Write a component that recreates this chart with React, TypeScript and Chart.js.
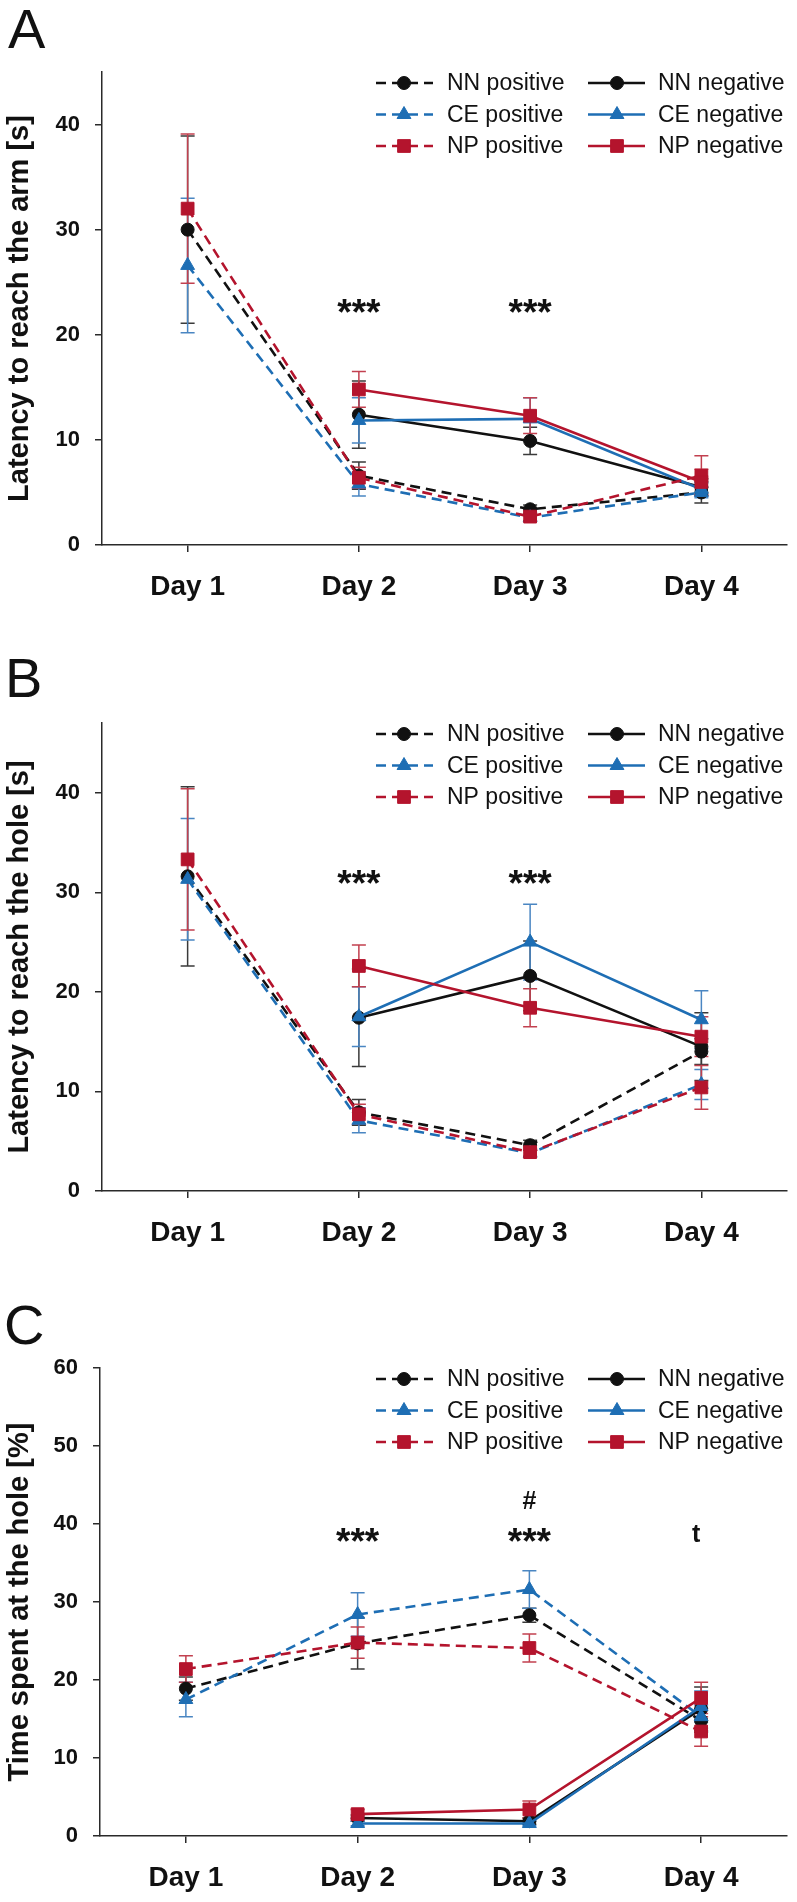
import React, { useEffect, useRef } from 'react';
import { Chart, registerables } from 'chart.js';

Chart.register(...registerables);

const FONT = '"Liberation Sans", Arial, Helvetica, sans-serif';
Chart.defaults.font.family = FONT;

// ---------- categories & series meta ----------
const days = ['Day 1', 'Day 2', 'Day 3', 'Day 4'];
const groups = ['NN', 'CE', 'NP'];
const groupColors = ['#111111', '#1e6eb4', '#b4142d'];
const groupErrColors = ['#3a3a3a', '#4a86c2', '#c2404f'];
const groupMarkers = ['circle', 'triangle', 'rect'];
const groupRadii = [6.5, 8, 9];

// ---------- Panel A: latency to reach the arm [s] ----------
const aNNpos = [30.0, 6.6, 3.4, 5.0];
const aNNposErr = [8.9, 1.3, 0.4, 1.0];
const aCEpos = [26.6, 5.8, 2.6, 5.0];
const aCEposErr = [6.4, 1.15, 0.3, 0.5];
const aNPpos = [32.0, 6.4, 2.7, 6.6];
const aNPposErr = [7.1, 1.0, 0.4, 1.9];
const aNNneg = [null, 12.4, 9.9, 5.5];
const aNNnegErr = [null, 3.2, 1.3, 0.8];
const aCEneg = [null, 11.85, 12.0, 5.3];
const aCEnegErr = [null, 2.15, 2.0, 0.6];
const aNPneg = [null, 14.8, 12.3, 6.0];
const aNPnegErr = [null, 1.7, 1.7, 1.2];

// ---------- Panel B: latency to reach the hole [s] ----------
const bNNpos = [31.6, 7.9, 4.6, 14.0];
const bNNposErr = [9.0, 1.3, 0.5, 1.3];
const bCEpos = [31.3, 7.1, 3.8, 10.7];
const bCEposErr = [6.1, 1.25, 0.4, 1.5];
const bNPpos = [33.3, 7.7, 3.9, 10.4];
const bNPposErr = [7.1, 1.0, 0.4, 2.2];
const bNNneg = [null, 17.4, 21.6, 14.5];
const bNNnegErr = [null, 4.9, 3.5, 3.4];
const bCEneg = [null, 17.5, 25.0, 17.2];
const bCEnegErr = [null, 3.0, 3.8, 2.9];
const bNPneg = [null, 22.6, 18.4, 15.5];
const bNPnegErr = [null, 2.1, 1.9, 2.0];

// ---------- Panel C: time spent at the hole [%] ----------
const cNNpos = [18.9, 24.7, 28.3, 14.8];
const cNNposErr = [1.5, 3.3, 0.9, 1.5];
const cCEpos = [17.5, 28.4, 31.6, 15.3];
const cCEposErr = [2.2, 2.8, 2.4, 1.5];
const cNPpos = [21.4, 24.8, 24.1, 13.4];
const cNPposErr = [1.7, 2.0, 1.8, 1.9];
const cNNneg = [null, 2.3, 1.9, 16.3];
const cNNnegErr = [null, 0.4, 0.4, 2.8];
const cCEneg = [null, 1.6, 1.6, 16.6];
const cCEnegErr = [null, 0.3, 0.3, 2.0];
const cNPneg = [null, 2.8, 3.4, 17.7];
const cNPnegErr = [null, 0.6, 1.1, 2.0];

// ---------- axis ticks ----------
const yStep = 10;
const aMax = 45;
const bMax = 47;
const cMax = 60;

// ---------- significance marks (category index, value, text) ----------
const annA = [
  { day: 1, value: 22.7, text: '***' },
  { day: 2, value: 22.7, text: '***' },
];
const annB = [
  { day: 1, value: 31.5, text: '***' },
  { day: 2, value: 31.5, text: '***' },
];
const annC = [
  { day: 1, value: 38.6, text: '***' },
  { day: 2, value: 38.6, text: '***' },
  { day: 2, value: 43.1, text: '#' },
  { day: 3, value: 38.8, text: 't' },
];

type Num = number | null;

function drawMarker(ctx: CanvasRenderingContext2D, style: string, x: number, y: number, r: number, color: string) {
  ctx.save();
  ctx.fillStyle = color;
  ctx.strokeStyle = color;
  ctx.lineWidth = 1;
  ctx.setLineDash([]);
  ctx.beginPath();
  if (style === 'circle') {
    ctx.arc(x, y, r, 0, Math.PI * 2);
  } else if (style === 'triangle') {
    let rad = 0;
    ctx.moveTo(x + Math.sin(rad) * r, y - Math.cos(rad) * r);
    rad += (2 * Math.PI) / 3;
    ctx.lineTo(x + Math.sin(rad) * r, y - Math.cos(rad) * r);
    rad += (2 * Math.PI) / 3;
    ctx.lineTo(x + Math.sin(rad) * r, y - Math.cos(rad) * r);
    ctx.closePath();
  } else {
    const s = r * Math.SQRT1_2;
    ctx.rect(x - s, y - s, 2 * s, 2 * s);
  }
  ctx.fill();
  ctx.stroke();
  ctx.restore();
}

const errorBarPlugin = {
  id: 'errorBars',
  beforeDatasetsDraw(chart: any) {
    const { ctx } = chart;
    const ys = chart.scales.y;
    for (let i = chart.data.datasets.length - 1; i >= 0; i--) {
      const ds = chart.data.datasets[i];
      const meta = chart.getDatasetMeta(i);
      (ds.errors as Num[]).forEach((e, j) => {
        const v = ds.data[j];
        if (v == null || e == null) return;
        const x = meta.data[j].x;
        const top = ys.getPixelForValue(v + e);
        const bot = ys.getPixelForValue(v - e);
        ctx.save();
        ctx.strokeStyle = ds.errColor;
        ctx.lineWidth = 1.5;
        ctx.beginPath();
        ctx.moveTo(x, top);
        ctx.lineTo(x, bot);
        ctx.moveTo(x - 7, top);
        ctx.lineTo(x + 7, top);
        ctx.moveTo(x - 7, bot);
        ctx.lineTo(x + 7, bot);
        ctx.stroke();
        ctx.restore();
      });
    }
  },
};

const legendOrder = [
  ['NN positive', 'CE positive', 'NP positive'],
  ['NN negative', 'CE negative', 'NP negative'],
];

const customLegendPlugin = {
  id: 'customLegend',
  afterDatasetsDraw(chart: any) {
    const { ctx, chartArea } = chart;
    const cols = [
      { x0: 376, x1: 433, mx: 404, tx: 447 },
      { x0: 588, x1: 645, mx: 617, tx: 658 },
    ];
    legendOrder.forEach((col, ci) => {
      col.forEach((label, ri) => {
        const ds = chart.data.datasets.find((d: any) => d.label === label);
        if (!ds) return;
        const y = chartArea.top + 11 + ri * 31.5;
        const c = cols[ci];
        ctx.save();
        ctx.strokeStyle = ds.borderColor;
        ctx.lineWidth = 2.5;
        ctx.setLineDash(ds.borderDash || []);
        ctx.beginPath();
        ctx.moveTo(c.x0, y);
        ctx.lineTo(c.x1, y);
        ctx.stroke();
        ctx.restore();
        drawMarker(ctx, ds.pointStyle, c.mx, y, ds.pointRadius, ds.borderColor);
        ctx.save();
        ctx.fillStyle = '#111';
        ctx.font = `23px ${FONT}`;
        ctx.textBaseline = 'middle';
        ctx.textAlign = 'left';
        ctx.fillText(label, c.tx, y + 1);
        ctx.restore();
      });
    });
  },
};

const textMarksPlugin = {
  id: 'textMarks',
  afterDraw(chart: any, _args: any, opts: any) {
    const { ctx } = chart;
    const xs = chart.scales.x;
    const ys = chart.scales.y;
    (opts.marks || []).forEach((m: any) => {
      const size = m.text === '***' ? 37 : 25;
      ctx.save();
      ctx.font = `bold ${size}px ${FONT}`;
      ctx.fillStyle = '#111';
      ctx.textAlign = 'center';
      ctx.textBaseline = 'alphabetic';
      const mt = ctx.measureText(m.text);
      const asc = mt.actualBoundingBoxAscent;
      const desc = mt.actualBoundingBoxDescent;
      const cy = ys.getPixelForValue(m.value);
      const cx = xs.getPixelForValue(m.day) + (m.text === 't' ? -5 : 0);
      ctx.fillText(m.text, cx, cy + (asc - desc) / 2);
      ctx.restore();
    });
    if (opts.letter) {
      ctx.save();
      ctx.font = `56px ${FONT}`;
      ctx.fillStyle = '#111';
      ctx.textAlign = 'left';
      ctx.textBaseline = 'alphabetic';
      ctx.fillText(opts.letter.text, opts.letter.x, opts.letter.y);
      ctx.restore();
    }
  },
};

function makeDatasets(pos: Num[][], posErr: Num[][], neg: Num[][], negErr: Num[][]) {
  const out: any[] = [];
  const make = (g: number, positive: boolean) => ({
    label: `${groups[g]} ${positive ? 'positive' : 'negative'}`,
    data: positive ? pos[g] : neg[g],
    errors: positive ? posErr[g] : negErr[g],
    errColor: groupErrColors[g],
    borderColor: groupColors[g],
    backgroundColor: groupColors[g],
    borderWidth: 2.6,
    borderDash: positive ? [10, 6] : [],
    pointStyle: groupMarkers[g],
    pointRadius: groupRadii[g],
    pointHoverRadius: groupRadii[g],
    pointBackgroundColor: groupColors[g],
    pointBorderColor: groupColors[g],
    pointBorderWidth: 1,
    tension: 0,
    fill: false,
  });
  // NP drawn on top, then CE, then NN
  [2, 1, 0].forEach((g) => {
    out.push(make(g, false));
    out.push(make(g, true));
  });
  return out;
}

type PanelCfg = {
  key: string;
  canvasH: number;
  padTop: number;
  xH: number;
  axisX: number;
  max: number;
  title: string;
  letter: { text: string; x: number; y: number };
  marks: any[];
  datasets: any[];
};

const panels: PanelCfg[] = [
  {
    key: 'A',
    canvasH: 640,
    padTop: 72,
    xH: 95,
    axisX: 102,
    max: aMax,
    title: 'Latency to reach the arm [s]',
    letter: { text: 'A', x: 8, y: 48 },
    marks: annA,
    datasets: makeDatasets(
      [aNNpos, aCEpos, aNPpos],
      [aNNposErr, aCEposErr, aNPposErr],
      [aNNneg, aCEneg, aNPneg],
      [aNNnegErr, aCEnegErr, aNPnegErr]
    ),
  },
  {
    key: 'B',
    canvasH: 630,
    padTop: 83,
    xH: 79,
    axisX: 102,
    max: bMax,
    title: 'Latency to reach the hole [s]',
    letter: { text: 'B', x: 5, y: 57 },
    marks: annB,
    datasets: makeDatasets(
      [bNNpos, bCEpos, bNPpos],
      [bNNposErr, bCEposErr, bNPposErr],
      [bNNneg, bCEneg, bNPneg],
      [bNNnegErr, bCEnegErr, bNPnegErr]
    ),
  },
  {
    key: 'C',
    canvasH: 632,
    padTop: 98,
    xH: 66,
    axisX: 100,
    max: cMax,
    title: 'Time spent at the hole [%]',
    letter: { text: 'C', x: 4, y: 74 },
    marks: annC,
    datasets: makeDatasets(
      [cNNpos, cCEpos, cNPpos],
      [cNNposErr, cCEposErr, cNPposErr],
      [cNNneg, cCEneg, cNPneg],
      [cNNnegErr, cCEnegErr, cNPnegErr]
    ),
  },
];

function buildConfig(p: PanelCfg): any {
  const axisColor = '#2a2a2a';
  return {
    type: 'line',
    data: { labels: days, datasets: p.datasets },
    plugins: [errorBarPlugin, customLegendPlugin, textMarksPlugin],
    options: {
      animation: false,
      responsive: false,
      maintainAspectRatio: false,
      events: [],
      layout: { padding: { top: p.padTop, right: 7, left: 0, bottom: 0 } },
      plugins: {
        legend: { display: false },
        tooltip: { enabled: false },
        title: { display: false },
        textMarks: { marks: p.marks, letter: p.letter },
      },
      scales: {
        x: {
          type: 'category',
          offset: true,
          grid: {
            display: true,
            drawOnChartArea: false,
            drawTicks: true,
            tickLength: 7,
            tickColor: axisColor,
            tickWidth: 1.5,
            color: axisColor,
            lineWidth: 1.5,
            offset: false,
          },
          border: { display: true, color: axisColor, width: 1.5 },
          ticks: {
            font: { size: 28, weight: 'bold', family: FONT },
            color: '#111',
            padding: 18,
            maxRotation: 0,
            autoSkip: false,
          },
          afterFit: (s: any) => {
            s.height = p.xH;
          },
        },
        y: {
          type: 'linear',
          min: 0,
          max: p.max,
          grid: {
            display: true,
            drawOnChartArea: false,
            drawTicks: true,
            tickLength: 7,
            tickColor: axisColor,
            tickWidth: 1.5,
            color: axisColor,
            lineWidth: 1.5,
          },
          border: { display: true, color: axisColor, width: 1.5 },
          ticks: {
            stepSize: yStep,
            includeBounds: false,
            font: { size: 22, weight: 'bold', family: FONT },
            color: '#111',
            padding: 15,
          },
          title: {
            display: true,
            text: p.title,
            font: { size: 29, weight: 'bold', family: FONT },
            color: '#111',
            padding: { top: 3, bottom: 0 },
          },
          afterFit: (s: any) => {
            s.width = p.axisX;
          },
        },
      },
    },
  };
}

function Panel({ cfg }: { cfg: PanelCfg }) {
  const ref = useRef<HTMLCanvasElement>(null);
  useEffect(() => {
    if (!ref.current) return;
    const chart = new Chart(ref.current, buildConfig(cfg));
    return () => chart.destroy();
  }, [cfg]);
  return (
    <canvas
      ref={ref}
      width={797}
      height={cfg.canvasH}
      style={{ display: 'block', width: 797, height: cfg.canvasH }}
    />
  );
}

export default function App() {
  useEffect(() => {
    document.body.style.margin = '0';
  }, []);
  return (
    <div
      style={{
        position: 'absolute',
        left: 0,
        top: 0,
        width: 797,
        height: 1902,
        background: '#ffffff',
        overflow: 'hidden',
      }}
    >
      {panels.map((p) => (
        <Panel key={p.key} cfg={p} />
      ))}
    </div>
  );
}
